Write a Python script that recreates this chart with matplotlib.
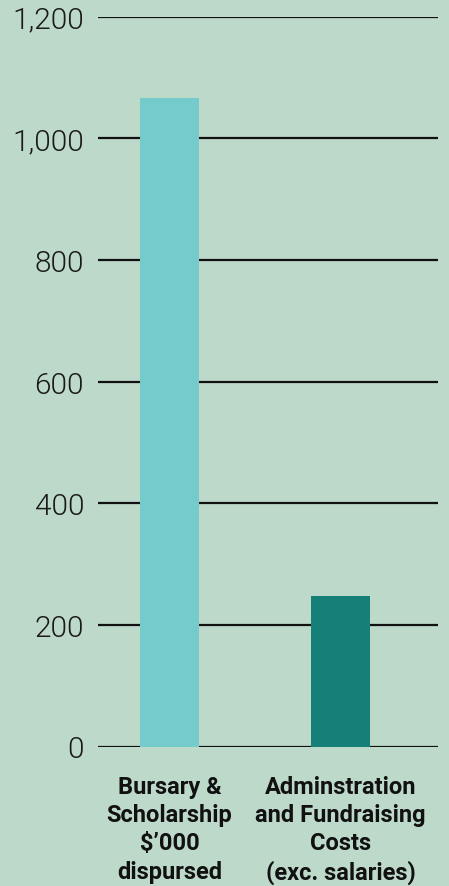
import matplotlib
matplotlib.use("Agg")
import matplotlib.pyplot as plt
from matplotlib.ticker import FuncFormatter

# Data
categories = ["Bursary &\nScholarship\n$\u2019000\ndispursed",
              "Adminstration\nand Fundraising\nCosts\n(exc. salaries)"]
values = [1066, 247]
bar_colors = ["#75CBCB", "#167F78"]
yticks = [0, 200, 400, 600, 800, 1000, 1200]

bg = "#BDD9CA"
W, H = 449, 887

fig = plt.figure(figsize=(W / 100, H / 100), dpi=100, facecolor=bg)
ax = fig.add_axes([98 / W, (H - 747.5) / H, 340 / W, 730 / H], facecolor=bg)

x = list(range(len(categories)))
ax.bar(x, values, width=0.345, color=bar_colors, zorder=3)

ax.set_xlim(-0.418, 1.57)
ax.set_ylim(0, 1200)
ax.set_yticks(yticks)
ax.yaxis.set_major_formatter(FuncFormatter(lambda v, p: f"{int(v):,}"))
ax.grid(axis="y", color="#111111", linewidth=1.6, zorder=1)
ax.set_axisbelow(True)

for s in ax.spines.values():
    s.set_visible(False)

ax.tick_params(axis="y", length=0, pad=10, labelsize=21.5, labelcolor="#1a1a1a")
ax.tick_params(axis="x", length=0, pad=20.5)
for lbl in ax.get_yticklabels():
    lbl.set_fontfamily("Roboto")
    lbl.set_fontweight(300)

ax.set_xticks(x)
ax.set_xticklabels(categories, fontfamily="Roboto", fontweight="bold",
                   fontsize=17, linespacing=1.29, color="#111111", va="top")

fig.savefig("out.png", dpi=100, facecolor=bg)
